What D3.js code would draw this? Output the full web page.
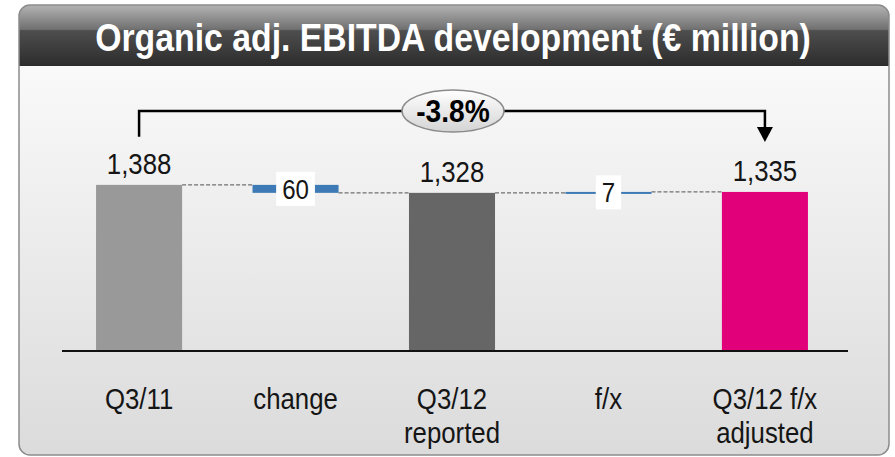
<!DOCTYPE html>
<html>
<head>
  <meta charset="utf-8">
  <style>
    body { margin: 0; background: #fff; }
    svg { display: block; }
    text { font-family: "Liberation Sans", Arial, sans-serif; }
  </style>
  <script src="https://d3js.org/d3.v7.min.js"></script>
</head>
<body>
  <div id="chart"></div>
  <script>
    // data
    var categories = ["Q3/11", "change", "Q3/12 reported", "f/x", "Q3/12 f/x adjusted"];
    var catLines = [["Q3/11"], ["change"], ["Q3/12", "reported"], ["f/x"], ["Q3/12 f/x", "adjusted"]];
    var kinds = ["total", "delta", "total", "delta", "total"];
    var values = [1388, -60, 1328, 7, 1335];
    var valueLabels = ["1,388", "60", "1,328", "7", "1,335"];
    var barColors = ["#999999", "#3e7bb6", "#666666", "#3e7bb6", "#e2007a"];
    var pctChange = "-3.8%";
    var title = "Organic adj. EBITDA development (\u20ac million)";

    var W = 895, H = 457;
    var svg = d3.select("#chart").append("svg").attr("width", W).attr("height", H);
    var defs = svg.append("defs");

    var g1 = defs.append("linearGradient").attr("id", "hdr").attr("x1", 0).attr("y1", 0).attr("x2", 0).attr("y2", 1);
    g1.append("stop").attr("offset", "0").attr("stop-color", "#b4b4b4");
    g1.append("stop").attr("offset", "0.40").attr("stop-color", "#707070");
    g1.append("stop").attr("offset", "0.42").attr("stop-color", "#4e4e4e");
    g1.append("stop").attr("offset", "1").attr("stop-color", "#2c2c2c");

    var g2 = defs.append("linearGradient").attr("id", "body").attr("x1", 0).attr("y1", 0).attr("x2", 0).attr("y2", 1);
    g2.append("stop").attr("offset", "0").attr("stop-color", "#fefefe");
    g2.append("stop").attr("offset", "1").attr("stop-color", "#dbdbdb");

    var g3 = defs.append("linearGradient").attr("id", "oval").attr("x1", 0).attr("y1", 0).attr("x2", 0).attr("y2", 1);
    g3.append("stop").attr("offset", "0").attr("stop-color", "#ffffff");
    g3.append("stop").attr("offset", "1").attr("stop-color", "#d4d4d4");

    defs.append("clipPath").attr("id", "panelClip")
      .append("rect").attr("x", 19).attr("y", 5).attr("width", 870).attr("height", 450).attr("rx", 11);

    // condensed look: squeeze text horizontally
    function narrowText(parent, cx, cy, str, size, sx, weight) {
      var g = parent.append("g").attr("transform", "translate(" + cx + "," + cy + ") scale(" + sx + ",1)");
      var t = g.append("text").attr("x", 0).attr("y", 0)
        .attr("text-anchor", "middle")
        .attr("font-size", size)
        .attr("font-weight", weight || "normal")
        .attr("fill", "#151515")
        .text(str);
      return t;
    }

    // panel
    var panel = svg.append("g").attr("clip-path", "url(#panelClip)");
    panel.append("rect").attr("x", 19).attr("y", 5).attr("width", 870).attr("height", 450).attr("fill", "url(#body)");
    panel.append("rect").attr("x", 19).attr("y", 5).attr("width", 870).attr("height", 61).attr("fill", "url(#hdr)");
    svg.append("rect").attr("x", 19).attr("y", 5).attr("width", 870).attr("height", 450).attr("rx", 11)
      .attr("fill", "none").attr("stroke", "#8c8c8c").attr("stroke-width", 1.5);

    var tt = narrowText(svg, 453, 51, title, 38, 1, "bold").attr("fill", "#fff");
    var tw = tt.node().getComputedTextLength();
    d3.select(tt.node().parentNode).attr("transform", "translate(453,51) scale(" + (716 / tw) + ",1)");

    // scales
    var x = d3.scaleBand().domain(categories).range([58.5, 845.5]).paddingInner(0.45).paddingOuter(0.24);
    var y = d3.scaleLinear().domain([140, 1988]).range([351, 105]);

    // waterfall bars
    var running = 0;
    var bars = values.map(function (v, i) {
      var from, to;
      if (kinds[i] === "total") { from = y.domain()[0]; to = v; running = v; }
      else { from = running; to = running + v; running = to; }
      return { cat: categories[i], from: from, to: to, kind: kinds[i], color: barColors[i], label: valueLabels[i], end: running };
    });

    var plot = svg.append("g");

    // dashed connectors
    for (var i = 0; i < bars.length - 1; i++) {
      plot.append("line")
        .attr("x1", x(bars[i].cat) + x.bandwidth())
        .attr("x2", x(bars[i + 1].cat))
        .attr("y1", y(bars[i].end)).attr("y2", y(bars[i].end))
        .attr("stroke", "#707070").attr("stroke-width", 1.3).attr("stroke-dasharray", "4,2");
    }

    plot.selectAll(".bar").data(bars).enter().append("rect")
      .attr("class", "bar")
      .attr("x", function (d) { return x(d.cat); })
      .attr("width", x.bandwidth())
      .attr("y", function (d) { return Math.min(y(d.from), y(d.to)); })
      .attr("height", function (d) { return Math.max(2, Math.abs(y(d.from) - y(d.to))); })
      .attr("fill", function (d) { return d.color; });

    // baseline
    plot.append("line").attr("x1", 62).attr("x2", 848).attr("y1", y.range()[0]).attr("y2", y.range()[0])
      .attr("stroke", "#111").attr("stroke-width", 2);

    // value labels
    bars.forEach(function (d) {
      var cx = x(d.cat) + x.bandwidth() / 2;
      if (d.kind === "total") {
        narrowText(plot, cx, y(d.to) - 11, d.label, 30, 0.86);
      } else {
        var cy = (y(d.from) + y(d.to)) / 2;
        var box = plot.append("rect").attr("fill", "#fff");
        var t = narrowText(plot, cx, cy + 10, d.label, 28, 0.86);
        var w = t.node().getComputedTextLength() * 0.86;
        box.attr("x", cx - w / 2 - 6).attr("width", w + 12)
          .attr("y", cy - 17).attr("height", 34);
      }
    });

    // category labels
    categories.forEach(function (c, i) {
      var cx = x(c) + x.bandwidth() / 2;
      catLines[i].forEach(function (ln, j) {
        narrowText(plot, cx, 409 + j * 34, ln, 30, 0.86);
      });
    });

    // bracket with arrow
    var xa = x(categories[0]) + x.bandwidth() / 2;
    var xb = x(categories[4]) + x.bandwidth() / 2;
    var yb = 111;
    plot.append("path")
      .attr("d", "M" + xa + "," + (y(values[0]) - 48) + "V" + yb + "H" + xb + "V" + 128)
      .attr("fill", "none").attr("stroke", "#000").attr("stroke-width", 2.5);
    plot.append("path")
      .attr("d", "M" + (xb - 8) + "," + 127 + "L" + (xb + 8) + "," + 127 + "L" + xb + "," + 142 + "Z")
      .attr("fill", "#000");

    var xm = (xa + xb) / 2 + 1;
    plot.append("ellipse").attr("cx", xm).attr("cy", yb).attr("rx", 51).attr("ry", 21)
      .attr("fill", "url(#oval)").attr("stroke", "#8a8a8a").attr("stroke-width", 1.5);
    narrowText(plot, xm, yb + 11, pctChange, 32, 0.88, "bold").attr("fill", "#000");
  </script>
</body>
</html>
